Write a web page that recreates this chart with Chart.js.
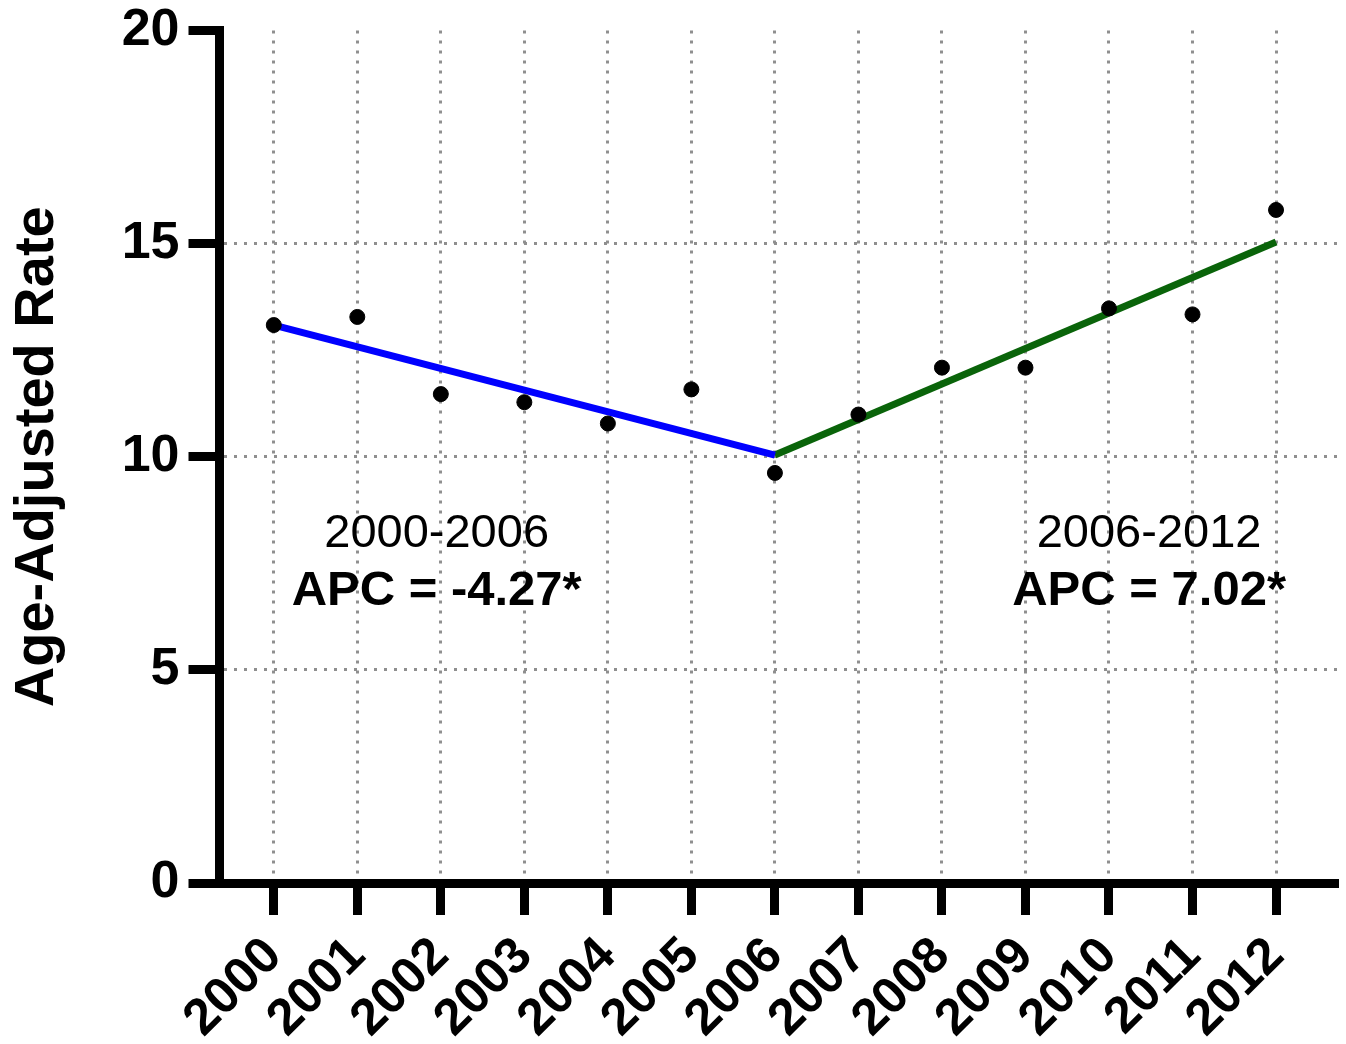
<!DOCTYPE html>
<html>
<head>
<meta charset="utf-8">
<script src="https://cdn.jsdelivr.net/npm/chart.js@4"></script>
<style>
  html, body { margin: 0; padding: 0; background: #ffffff; }
  #wrap { width: 1346px; height: 1044px; position: relative; }
</style>
</head>
<body>
<div id="wrap"><canvas id="c" width="1346" height="1044"></canvas></div>
<script>
// ---- data ----
const years = [2000, 2001, 2002, 2003, 2004, 2005, 2006, 2007, 2008, 2009, 2010, 2011, 2012];
const rates = [13.09, 13.28, 11.47, 11.28, 10.78, 11.58, 9.62, 10.99, 12.09, 12.09, 13.48, 13.34, 15.79];
const trendAYears = [2000, 2006];
const trendAValues = [13.09, 10.04];
const trendBYears = [2006, 2012];
const trendBValues = [10.04, 15.04];
const yTicks = [0, 5, 10, 15, 20];
const segmentLabels = ['2000-2006', '2006-2012'];
const apcLabels = ['APC = -4.27*', 'APC = 7.02*'];

const FONT = '"Liberation Sans", Arial, Helvetica, sans-serif';
const toXY = (xs, ys) => xs.map((x, i) => ({ x: x, y: ys[i] }));

const annotationPlugin = {
  id: 'apcText',
  afterDatasetsDraw(chart) {
    const ctx = chart.ctx;
    const xs = chart.scales.x, ys = chart.scales.y;
    const spots = [
      { x: 2001.95, y1: 7.88, y2: 6.52 },
      { x: 2010.48, y1: 7.88, y2: 6.52 }
    ];
    ctx.save();
    ctx.fillStyle = '#000';
    ctx.textAlign = 'center';
    ctx.textBaseline = 'alphabetic';
    spots.forEach((s, i) => {
      const px = xs.getPixelForValue(s.x);
      ctx.font = '47px ' + FONT;
      ctx.fillText(segmentLabels[i], px, ys.getPixelForValue(s.y1));
      ctx.font = 'bold 49px ' + FONT;
      ctx.fillText(apcLabels[i], px, ys.getPixelForValue(s.y2));
    });
    ctx.restore();
  }
};

new Chart(document.getElementById('c'), {
  type: 'scatter',
  data: {
    datasets: [
      {
        type: 'scatter',
        data: toXY(years, rates),
        backgroundColor: '#000',
        borderColor: '#000',
        pointRadius: 7.5,
        pointHoverRadius: 7.5,
        showLine: false
      },
      {
        type: 'line',
        data: toXY(trendAYears, trendAValues),
        borderColor: '#0000ff',
        borderWidth: 7,
        pointRadius: 0,
        fill: false,
        tension: 0
      },
      {
        type: 'line',
        data: toXY(trendBYears, trendBValues),
        borderColor: '#0a640a',
        borderWidth: 7,
        pointRadius: 0,
        fill: false,
        tension: 0
      }
    ]
  },
  options: {
    responsive: false,
    animation: false,
    events: [],
    layout: { padding: { left: 0, right: 9, top: 30.5, bottom: 0 } },
    plugins: { legend: { display: false }, tooltip: { enabled: false } },
    scales: {
      x: {
        type: 'linear',
        position: 'bottom',
        min: 1999.35,
        max: 2012.73,
        afterBuildTicks: (scale) => { scale.ticks = years.map(v => ({ value: v })); },
        afterFit: (scale) => { scale.height = 161; scale.paddingLeft = 0; scale.paddingRight = 0; },
        ticks: {
          autoSkip: false,
          minRotation: 45,
          maxRotation: 45,
          padding: 11,
          color: '#000',
          font: { family: FONT, size: 51, weight: 'bold' },
          callback: (v) => String(v)
        },
        grid: {
          color: '#8f8f8f',
          lineWidth: 3,
          tickColor: '#000',
          tickWidth: 9,
          tickLength: 32,
          tickBorderDash: []
        },
        border: { display: true, color: '#000', width: 9, dash: [3, 7] }
      },
      y: {
        type: 'linear',
        position: 'left',
        min: 0,
        max: 20,
        afterBuildTicks: (scale) => { scale.ticks = yTicks.map(v => ({ value: v })); },
        afterFit: (scale) => { scale.width = 219.5; scale.paddingTop = 0; scale.paddingBottom = 0; },
        ticks: {
          padding: 9,
          color: '#000',
          font: { family: FONT, size: 52, weight: 'bold' }
        },
        grid: {
          color: (c) => (c.tick && (c.tick.value === 0 || c.tick.value === 20)) ? 'rgba(0,0,0,0)' : '#8f8f8f',
          lineWidth: 3,
          tickColor: '#000',
          tickWidth: 9,
          tickLength: 31,
          tickBorderDash: []
        },
        border: { display: true, color: '#000', width: 9, dash: [3, 7] },
        title: {
          display: true,
          text: 'Age-Adjusted Rate',
          color: '#000',
          font: { family: FONT, size: 56, weight: 'bold' },
          padding: { top: 4, bottom: 0 }
        }
      }
    }
  },
  plugins: [annotationPlugin]
});
</script>
</body>
</html>
